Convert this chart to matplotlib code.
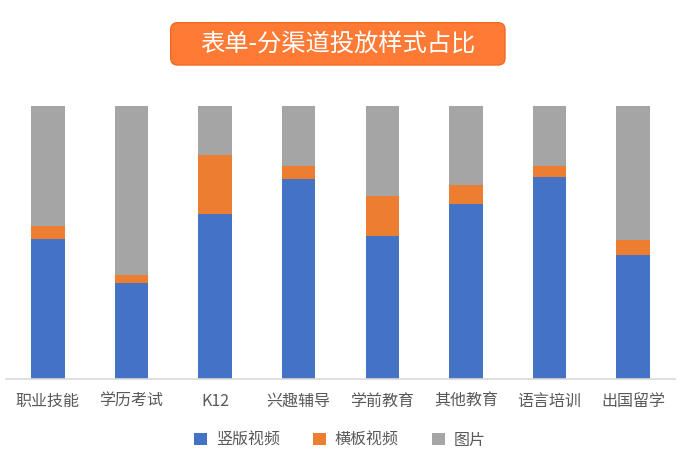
import matplotlib
matplotlib.use("Agg")
import matplotlib.pyplot as plt
from matplotlib.patches import FancyBboxPatch
import numpy as np

plt.rcParams['font.family'] = ['Noto Sans CJK SC', 'DejaVu Sans']

categories = ["职业技能", "学历考试", "K12", "兴趣辅导", "学前教育", "其他教育", "语言培训", "出国留学"]
series_names = ["竖版视频", "横板视频", "图片"]
vertical_video = [51.2, 35.0, 60.3, 73.3, 52.4, 64.1, 73.8, 45.3]
horizontal_video = [4.7, 2.9, 21.8, 4.6, 14.5, 7.0, 4.2, 5.5]
images = [44.1, 62.1, 17.9, 22.1, 33.1, 28.9, 22.0, 49.2]
colors = ["#4472C4", "#ED7D31", "#A5A5A5"]
title = "表单-分渠道投放样式占比"

fig = plt.figure(figsize=(6.8, 4.7), dpi=100)
ax = fig.add_axes([6/680, 1 - 378.7/470, 669/680, (378.7 - 105.7)/470])

x = np.arange(len(categories))
v = np.array(vertical_video)
h = np.array(horizontal_video)
g = np.array(images)
tot = v + h + g
v, h, g = v / tot, h / tot, g / tot

w = 0.4
ax.bar(x, v, w, color=colors[0], label=series_names[0])
ax.bar(x, h, w, bottom=v, color=colors[1], label=series_names[1])
ax.bar(x, g, w, bottom=v + h, color=colors[2], label=series_names[2])

ax.set_xlim(-0.5, len(categories) - 0.5)
ax.set_ylim(0, 1)
ax.set_xticks(x)
ax.set_xticklabels(categories, fontsize=11.5, color="#595959")
ax.tick_params(axis='x', length=0, pad=10)
ax.set_yticks([])
for s in ["top", "left", "right"]:
    ax.spines[s].set_visible(False)
ax.spines["bottom"].set_color("#D9D9D9")
ax.spines["bottom"].set_linewidth(1.2)

fig.legend(loc="center", bbox_to_anchor=(0.5, 1 - 440/470), ncol=3, frameon=False,
           fontsize=11.5, handlelength=0.8, handleheight=0.8, handletextpad=0.55,
           columnspacing=2.1, labelcolor="#595959")

box = FancyBboxPatch((1.707, (470 - 65) / 100), 3.343, 0.423,
                     boxstyle="round,pad=0,rounding_size=0.07",
                     transform=fig.dpi_scale_trans, facecolor="#FF7A35",
                     edgecolor="#F26A22", linewidth=1.0)
fig.patches.append(box)
fig.text(338/680, 1 - 44/470, title, ha="center", va="center", color="white", fontsize=17.5)

fig.savefig("out.png", dpi=100)
